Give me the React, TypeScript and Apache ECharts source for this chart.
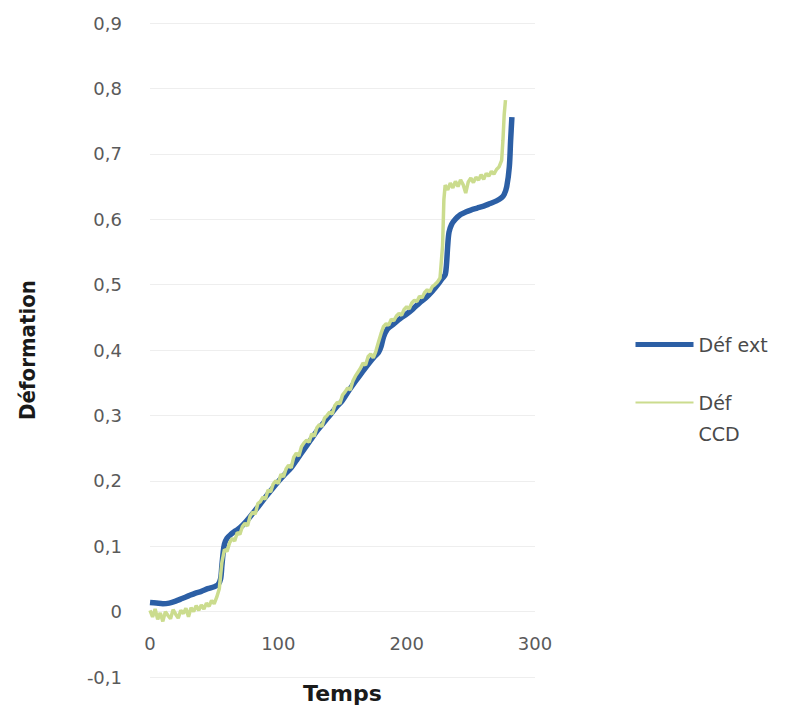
import React, { useEffect, useRef } from "react";
import * as echarts from "echarts";

// Extensometer strain ("Déf ext"): [time, strain]
const defExt: [number, number][] = [
  [0, 0.014], [5, 0.013], [10, 0.012], [15, 0.013], [20, 0.016], [25, 0.02],
  [30, 0.024], [35, 0.028], [40, 0.031], [45, 0.035], [50, 0.038], [53, 0.041],
  [55, 0.05], [56, 0.07], [57, 0.09], [58, 0.103], [60, 0.112], [63, 0.118],
  [67, 0.124], [70, 0.128], [75, 0.138], [80, 0.15], [85, 0.162], [90, 0.175],
  [95, 0.187], [100, 0.199], [105, 0.21], [110, 0.22], [115, 0.234], [120, 0.248],
  [125, 0.262], [130, 0.276], [135, 0.288], [140, 0.3], [145, 0.312], [150, 0.323],
  [155, 0.338], [160, 0.352], [165, 0.365], [170, 0.378], [175, 0.39], [178, 0.396],
  [180, 0.405], [182, 0.42], [185, 0.432], [190, 0.44], [195, 0.448], [200, 0.455],
  [205, 0.463], [210, 0.472], [215, 0.48], [220, 0.49], [225, 0.502], [228, 0.51],
  [230, 0.515], [231, 0.53], [232, 0.56], [233, 0.58], [235, 0.592], [238, 0.6],
  [242, 0.607], [246, 0.611], [250, 0.614], [255, 0.617], [260, 0.62], [265, 0.624],
  [270, 0.628], [274, 0.633], [276, 0.638], [278, 0.65], [280, 0.68], [281, 0.72],
  [282, 0.756],
];

// Camera (CCD) strain ("Déf CCD"): [time, strain]
const defCCD: [number, number][] = [
  [0, 0.002], [2, -0.008], [4, 0.004], [6, -0.012], [8, -0.002], [10, -0.015],
  [12, 0.0], [14, -0.006], [16, -0.011], [18, 0.003], [20, -0.004], [22, -0.01],
  [24, 0.002], [26, -0.003], [28, 0.005], [30, -0.008], [32, 0.006], [34, 0.0],
  [36, 0.009], [38, 0.002], [40, 0.01], [42, 0.004], [44, 0.013], [46, 0.008],
  [48, 0.017], [50, 0.012], [52, 0.022], [54, 0.035], [56, 0.075], [58, 0.095],
  [60, 0.092], [62, 0.105], [64, 0.112], [66, 0.108], [68, 0.121], [70, 0.118],
  [72, 0.13], [74, 0.135], [76, 0.131], [78, 0.146], [80, 0.152], [82, 0.149],
  [84, 0.165], [86, 0.168], [88, 0.175], [90, 0.172], [92, 0.186], [94, 0.183],
  [96, 0.195], [98, 0.2], [100, 0.196], [102, 0.21], [104, 0.206], [106, 0.218],
  [108, 0.224], [110, 0.22], [112, 0.236], [114, 0.242], [116, 0.238], [118, 0.252],
  [120, 0.258], [122, 0.262], [124, 0.259], [126, 0.272], [128, 0.268], [130, 0.281],
  [132, 0.286], [134, 0.283], [136, 0.296], [138, 0.3], [140, 0.305], [142, 0.302],
  [144, 0.315], [146, 0.32], [148, 0.318], [150, 0.331], [152, 0.336], [154, 0.342],
  [156, 0.339], [158, 0.352], [160, 0.36], [162, 0.366], [164, 0.372], [166, 0.38],
  [168, 0.377], [170, 0.39], [172, 0.394], [174, 0.388], [176, 0.398], [178, 0.412],
  [180, 0.425], [182, 0.436], [184, 0.44], [186, 0.438], [188, 0.447], [190, 0.445],
  [192, 0.452], [194, 0.456], [196, 0.453], [198, 0.462], [200, 0.466], [202, 0.463],
  [204, 0.472], [206, 0.476], [208, 0.474], [210, 0.482], [212, 0.48], [214, 0.488],
  [216, 0.492], [218, 0.489], [220, 0.497], [222, 0.5], [224, 0.504], [226, 0.51],
  [228, 0.56], [229, 0.63], [230, 0.652], [232, 0.645], [234, 0.655], [236, 0.648],
  [238, 0.658], [240, 0.65], [242, 0.66], [244, 0.653], [246, 0.64], [248, 0.657],
  [250, 0.663], [252, 0.656], [254, 0.664], [256, 0.66], [258, 0.668], [260, 0.661],
  [262, 0.67], [264, 0.666], [266, 0.673], [268, 0.669], [270, 0.676], [272, 0.68],
  [274, 0.69], [275, 0.72], [276, 0.76], [277, 0.782],
];

const seriesNames = ["Déf ext", "Déf CCD"];
const xRange = { min: 0, max: 300, step: 100 };
const yRange = { min: -0.1, max: 0.9, step: 0.1 };

const fmtY = (v: number) =>
  Math.abs(v) < 1e-9 ? "0" : v.toFixed(1).replace(".", ",");

// The CCD entry wraps onto two lines; a leading blank line keeps its
// legend line level with the first word.
const fmtLegend = (name: string) =>
  name === seriesNames[1] ? "\u00a0\nDéf\nCCD" : name;

export default function App() {
  const ref = useRef<HTMLDivElement>(null);

  useEffect(() => {
    if (!ref.current) return;
    const chart = echarts.init(ref.current, undefined, { renderer: "svg" });
    chart.setOption({
      animation: false,
      backgroundColor: "#ffffff",
      grid: {
        left: 142,
        top: 15,
        right: 258,
        bottom: 28,
        containLabel: false,
        outerBoundsMode: "none",
      },
      xAxis: {
        type: "value",
        position: "bottom",
        min: xRange.min,
        max: xRange.max,
        interval: xRange.step,
        name: "Temps",
        nameLocation: "middle",
        nameGap: 3,
        nameTextStyle: {
          fontFamily: "DejaVu Sans",
          fontWeight: "bold",
          fontSize: 22,
          lineHeight: 22,
          color: "#1a1a1a",
        },
        axisLine: { show: false, onZero: false },
        axisTick: { show: false },
        splitLine: { show: false },
        axisLabel: {
          inside: true,
          margin: 25,
          fontFamily: "DejaVu Sans",
          fontSize: 18,
          color: "#5a5a5a",
        },
      },
      yAxis: {
        type: "value",
        min: yRange.min,
        max: yRange.max,
        interval: yRange.step,
        name: "Déformation",
        nameLocation: "middle",
        nameGap: 112,
        nameTextStyle: {
          fontFamily: "DejaVu Sans Condensed",
          fontWeight: "bold",
          fontSize: 22,
          color: "#1a1a1a",
        },
        axisLine: { show: false },
        axisTick: { show: false },
        splitLine: { show: true, lineStyle: { color: "#eeeeee", width: 1 } },
        axisLabel: {
          margin: 28,
          fontFamily: "DejaVu Sans",
          fontSize: 18,
          color: "#5a5a5a",
          formatter: fmtY,
        },
      },
      legend: {
        orient: "vertical",
        left: 620,
        top: 316,
        itemWidth: 58,
        itemHeight: 4,
        itemGap: -4,
        itemStyle: { opacity: 0 },
        textStyle: {
          fontFamily: "DejaVu Sans",
          fontSize: 19,
          color: "#4a4a4a",
          lineHeight: 31,
        },
        formatter: fmtLegend,
        data: [
          { name: seriesNames[0], lineStyle: { width: 5 } },
          { name: seriesNames[1], lineStyle: { width: 2 } },
        ],
      },
      series: [
        {
          name: seriesNames[1],
          type: "line",
          data: defCCD,
          symbol: "none",
          z: 2,
          lineStyle: { color: "#cbdc8e", width: 3.5 },
          itemStyle: { color: "#cbdc8e" },
        },
        {
          name: seriesNames[0],
          type: "line",
          data: defExt,
          symbol: "none",
          smooth: 0.3,
          z: 1,
          lineStyle: { color: "#2c5fa5", width: 5.5 },
          itemStyle: { color: "#2c5fa5" },
        },
      ],
    });
    return () => chart.dispose();
  }, []);

  return <div ref={ref} style={{ width: 785, height: 697 }} />;
}
